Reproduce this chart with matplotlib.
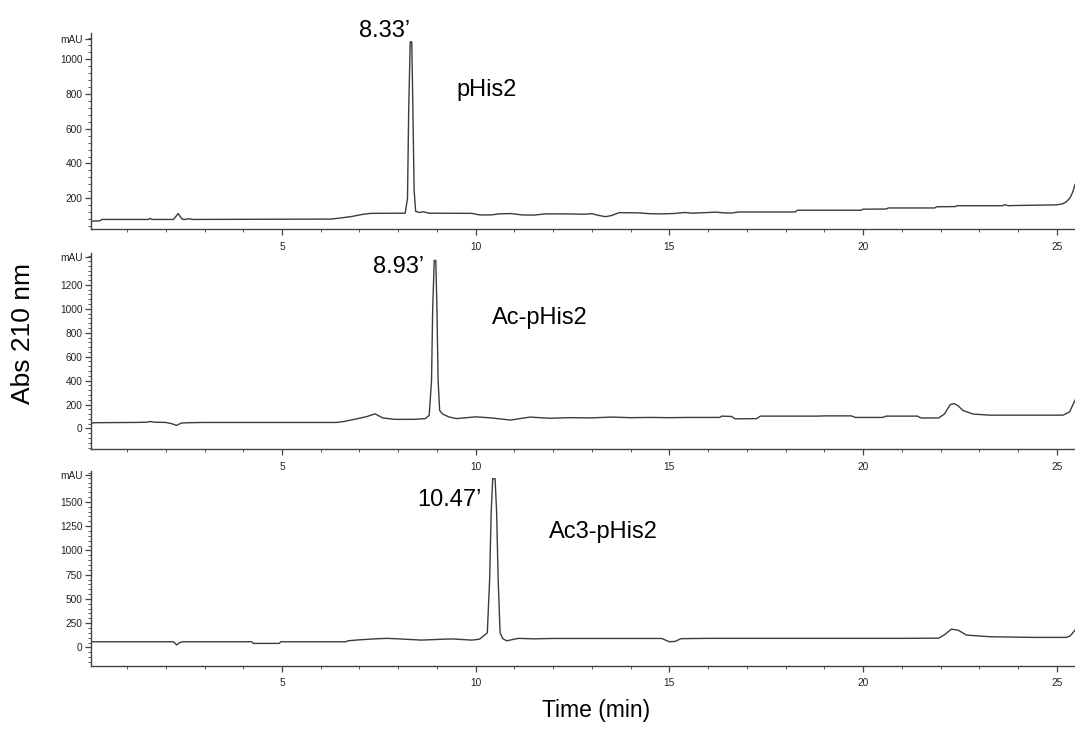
import matplotlib
matplotlib.use("Agg")
import matplotlib.pyplot as plt
from matplotlib.ticker import MultipleLocator

plt.rcParams['font.family'] = ['Liberation Sans', 'DejaVu Sans']

# chromatogram traces (time in min, absorbance in mAU)
phis2_t = [0.07, 0.3, 0.35, 1.55, 1.6, 1.65, 2.2, 2.32, 2.42, 2.5, 2.6, 2.7,
           6.25, 6.5, 6.8, 7.1, 7.3, 8.18, 8.24, 8.27, 8.31, 8.35, 8.38, 8.41,
           8.45, 8.55, 8.65, 8.8, 9.9, 10.1, 10.4, 10.6, 10.9, 11.2, 11.5, 11.8,
           12.3, 12.8, 13.0, 13.2, 13.35, 13.5, 13.7, 14.2, 14.5, 14.8, 15.1,
           15.4, 15.6, 15.9, 16.2, 16.4, 16.6, 16.8, 18.25, 18.3, 19.95, 20.0,
           20.6, 20.65, 21.85, 21.9, 22.38, 22.42, 23.6, 23.65, 23.75, 23.9,
           25.0, 25.15, 25.25, 25.35, 25.42, 25.47]
phis2_v = [68, 70, 78, 78, 84, 78, 78, 112, 80, 78, 82, 78,
           80, 86, 95, 108, 113, 114, 200, 700, 1100, 1100, 700, 250,
           125, 118, 122, 114, 113, 104, 104, 110, 112, 104, 103, 110,
           110, 108, 111, 100, 94, 100, 117, 116, 111, 110, 112,
           118, 114, 117, 120, 116, 115, 121, 121, 131, 131, 137,
           138, 144, 144, 151, 152, 157, 157, 163, 157, 158,
           162, 168, 180, 205, 240, 280]

acphis2_t = [0.07, 0.15, 1.2, 1.5, 1.6, 1.7, 2.0, 2.15, 2.28, 2.4, 2.6, 3.0,
             6.4, 6.6, 7.0, 7.2, 7.4, 7.6, 7.9, 8.4, 8.7, 8.8, 8.86, 8.89,
             8.93, 8.97, 9.0, 9.03, 9.07, 9.15, 9.3, 9.5, 10.0, 10.4, 10.9,
             11.4, 11.9, 12.4, 13.0, 13.5, 14.0, 14.5, 15.0, 15.5, 16.0, 16.3,
             16.35, 16.6, 16.7, 17.25, 17.35, 18.8, 19.0, 19.7, 19.8, 20.5,
             20.6, 21.4, 21.5, 21.95, 22.1, 22.25, 22.35, 22.45, 22.58, 22.84,
             23.27, 25.16, 25.33, 25.47]
acphis2_v = [40, 48, 50, 52, 58, 52, 50, 40, 25, 45, 48, 50,
             50, 58, 85, 100, 122, 88, 76, 76, 82, 110, 400, 1000,
             1405, 1405, 1000, 400, 150, 120, 97, 82, 97, 88, 70,
             95, 85, 90, 88, 95, 90, 92, 90, 92, 92, 92,
             103, 100, 80, 82, 103, 103, 105, 105, 92, 92,
             103, 103, 87, 88, 120, 200, 208, 190, 150, 120,
             111, 111, 138, 236]

ac3phis2_t = [0.07, 2.2, 2.28, 2.36, 2.45, 4.22, 4.26, 4.93, 4.97, 6.65, 6.7,
              7.0, 7.4, 7.7, 8.0, 8.6, 9.2, 9.4, 9.9, 10.1, 10.3, 10.36, 10.4,
              10.44, 10.5, 10.54, 10.58, 10.63, 10.7, 10.8, 11.1, 11.5, 12.0,
              14.8, 15.0, 15.15, 15.3, 16.0, 21.0, 21.95, 22.1, 22.28, 22.45,
              22.67, 23.26, 24.38, 25.25, 25.35, 25.47]
ac3phis2_v = [58, 58, 25, 50, 58, 58, 41, 41, 58, 58, 68,
              78, 88, 93, 88, 75, 85, 87, 75, 85, 150, 700, 1400,
              1740, 1740, 1400, 700, 150, 90, 68, 93, 88, 92,
              92, 58, 62, 90, 93, 93, 95, 130, 188, 178,
              127, 110, 103, 103, 120, 178]

traces = [(phis2_t, phis2_v), (acphis2_t, acphis2_v), (ac3phis2_t, ac3phis2_v)]

# y axis setup per panel
y_limits = [(23, 1151), (-172, 1467), (-192, 1819)]
y_ticks = [[200, 400, 600, 800, 1000],
           [0, 200, 400, 600, 800, 1000, 1200],
           [0, 250, 500, 750, 1000, 1250, 1500]]
y_minor = [40, 40, 50]
mau_pos = [1117, 1431, 1775]
x_ticks = [5, 10, 15, 20, 25]

peak_labels = ["8.33\u2019", "8.93\u2019", "10.47\u2019"]
name_labels = ["pHis2", "Ac-pHis2", "Ac3-pHis2"]

W, H = 1075, 731
fig = plt.figure(figsize=(W / 100, H / 100), dpi=100)

def fx(x):
    return x / W

def fy(y):
    return 1 - y / H

# axes boxes in pixels (top, bottom)
boxes = [(33, 229), (253, 449), (471, 666)]
left, right = 91, 1075
line_col = "#3c3c3c"

for i, (t, v) in enumerate(traces):
    top, bot = boxes[i]
    ax = fig.add_axes([fx(left), fy(bot), fx(right - left), (bot - top) / H])
    ax.plot(t, v, color=line_col, lw=1.0)
    ax.set_xlim(0.07, 25.47)
    ax.set_ylim(*y_limits[i])
    for s in ["top", "right"]:
        ax.spines[s].set_visible(False)
    for s in ["left", "bottom"]:
        ax.spines[s].set_color("#444444")
        ax.spines[s].set_linewidth(1.0)
    ax.set_xticks(x_ticks)
    ax.set_xticklabels([str(x) for x in x_ticks])
    ax.xaxis.set_minor_locator(MultipleLocator(1))
    ax.set_yticks(y_ticks[i] + [mau_pos[i]])
    ax.set_yticklabels([str(y) for y in y_ticks[i]] + ["mAU"])
    ax.yaxis.set_minor_locator(MultipleLocator(y_minor[i]))
    ax.tick_params(axis="both", which="major", labelsize=7.3, colors="#444444",
                   labelcolor="#222222", direction="out", length=4, width=0.9)
    ax.tick_params(axis="both", which="minor", direction="out", length=2,
                   width=0.7, colors="#555555")
    ax.tick_params(axis="x", which="major", pad=5)
    ax.tick_params(axis="y", which="major", pad=2)
    ax.patch.set_alpha(0)

label_font = dict(fontsize=17, color="black", ha="center", va="center")
peak_xy = [(384, 31), (399, 267), (449, 500)]
name_xy = [(487, 90), (540, 318), (603, 532)]
for lab, (x, y) in zip(peak_labels, peak_xy):
    fig.text(fx(x), fy(y), lab, **label_font)
for lab, (x, y) in zip(name_labels, name_xy):
    fig.text(fx(x), fy(y), lab, **label_font)

fig.text(fx(23), fy(334), "Abs 210 nm", fontsize=19, rotation=90,
         ha="center", va="center")
fig.text(fx(596), fy(710), "Time (min)", fontsize=16.5, ha="center", va="center")

fig.savefig("out.png", dpi=100)
